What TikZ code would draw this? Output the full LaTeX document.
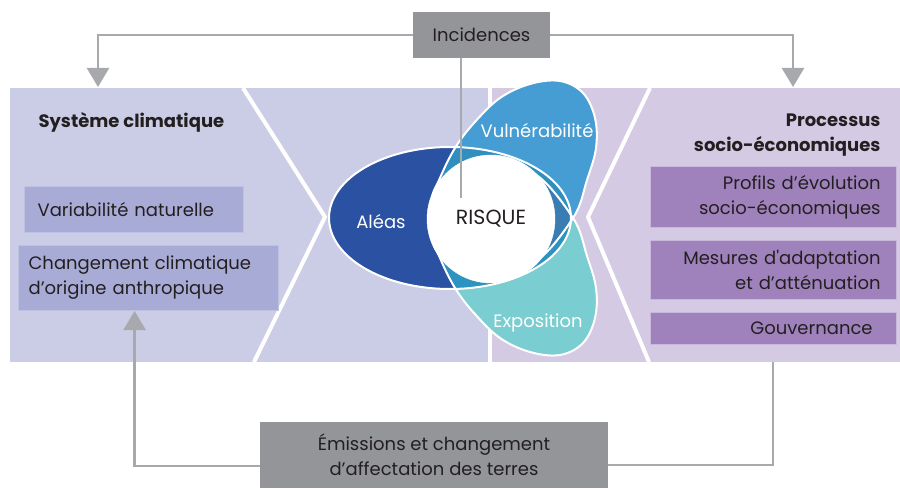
\documentclass[tikz,border=0pt]{standalone}
\usepackage{fontspec}
\setmainfont{Poppins}
\newfontfamily\latoraw{Poppins}
\usetikzlibrary{arrows.meta,calc}
\definecolor{bgL}{HTML}{CBCDE6}
\definecolor{bgR}{HTML}{D4CAE3}
\definecolor{boxL}{HTML}{A8ABD6}
\definecolor{boxLb}{HTML}{BFC1E2}
\definecolor{boxR}{HTML}{9F82BC}
\definecolor{boxRb}{HTML}{C9B8DC}
\definecolor{aleas}{HTML}{2B51A2}
\definecolor{vuln}{HTML}{459DD3}
\definecolor{expo}{HTML}{7ACDD0}
\definecolor{ovAV}{HTML}{2F8FBF}
\definecolor{ovAE}{HTML}{2D93C0}
\definecolor{ovVE}{HTML}{3A7DB3}
\definecolor{gboxc}{HTML}{939598}
\definecolor{glinec}{HTML}{A7A9AC}
\definecolor{ink}{HTML}{231F20}
\newcommand\pathA{(450,270) ellipse [x radius=121, y radius=71]}
\newcommand\pathV{plot[smooth cycle, tension=0.6] coordinates {(573,270) (587,308) (596,340) (595,370) (583,395) (560,407) (530,404) (500,390) (474,365) (455,340) (440,310) (432,285) (445,245) (490,228) (533,225)}}
\newcommand\pathE{plot[smooth cycle, tension=0.6] coordinates {(573,270) (587,232) (596,200) (595,170) (583,145) (560,133) (530,136) (500,150) (474,175) (455,200) (440,230) (432,255) (445,295) (490,312) (533,315)}}
\tikzset{
  txt/.style={font=\fontsize{18}{25}\selectfont, text=ink},
  lbox/.style={txt, fill=boxL, draw=boxLb, line width=1.2pt, align=left, inner ysep=0pt},
  rbox/.style={txt, fill=boxR, draw=boxRb, line width=1.2pt, align=right, inner ysep=0pt},
  gbox/.style={txt, fill=gboxc, draw=none, align=center, inner sep=0pt},
  gline/.style={draw=glinec, line width=2.5pt},
  garrow/.style={gline, -{Triangle[width=22pt,length=19pt]}},
  wline/.style={draw=white, line width=4pt},
  petal/.style={draw=white, line width=2pt},
  ptext/.style={font=\fontsize{18}{20}\selectfont, text=white},
  head/.style={font=\fontsize{18}{25}\selectfont\bfseries, text=ink}
}
\begin{document}
\begin{tikzpicture}[x=1pt,y=1pt]
\useasboundingbox (0,0) rectangle (900,488);
% backgrounds
\fill[bgL] (10,126) rectangle (490,400);
\fill[bgR] (490,126) rectangle (900,400);
% white separators
\coordinate (vt) at (490,400); \coordinate (vb) at (490,126);
\draw[wline] (vt) -- (vb);
\coordinate (cl1) at (243,400); \coordinate (cl2) at (325,271); \coordinate (cl3) at (254,126);
\draw[wline] (cl1) -- (cl2) -- (cl3);
\coordinate (cr1) at (650,400); \coordinate (cr2) at (588,271); \coordinate (cr3) at (649,126);
\draw[wline] (cr1) -- (cr2) -- (cr3);
% petals
\fill[aleas] \pathA;
\fill[vuln] \pathV;
\fill[expo] \pathE;
\begin{scope}
  \clip \pathA;
  \fill[ovAV] \pathV;
  \fill[ovAE] \pathE;
\end{scope}
\begin{scope}
  \clip \pathV;
  \fill[ovVE] \pathE;
\end{scope}
\draw[petal] \pathA;
\draw[petal] \pathV;
\draw[petal] \pathE;
\node[circle, fill=white, draw=white, minimum size=128pt, inner sep=0pt,
      font=\fontsize{20.5}{22}\selectfont, text=ink] (risque) at (491,269) {RISQUE};
\node[ptext] (tal) at (381,266) {Aléas};
\node[ptext] (tvu) at (537,357) {Vulnérabilité};
\node[ptext] (tex) at (538,165) {Exposition};
% left panel
\node[head, anchor=west] (sc) at (35,366) {Système climatique};
\node[lbox, anchor=south west, text width=193pt, inner xsep=13pt, minimum height=46pt] (var) at (24,255) {Variabilité naturelle};
\node[lbox, anchor=south west, text width=240pt, inner xsep=10pt, minimum height=65pt] (chg) at (18,177) {Changement climatique\\d’origine anthropique};
% right panel
\node[head, anchor=east, align=right] (pr) at (884,353) {Processus\\socio-économiques};
\node[rbox, anchor=south west, text width=214pt, inner xsep=16pt, minimum height=61pt] (prof) at (650,260) {Profils d’évolution\\socio-économiques};
\node[rbox, anchor=south west, text width=214pt, inner xsep=16pt, minimum height=59pt] (mes) at (650,188) {Mesures d{\latoraw'}adaptation\\et d’atténuation};
\node[rbox, anchor=south west, text width=198pt, inner xsep=24pt, minimum height=32pt] (gov) at (650,143) {Gouvernance};
% gray boxes
\node[gbox, minimum width=137pt, minimum height=46pt] (inc) at (481.5,453) {Incidences};
\node[gbox, minimum width=348pt, minimum height=66pt] (em) at (434,33) {Émissions et changement\\d’affectation des terres};
% connectors
\coordinate (tipL) at (98,401);
\coordinate (tipR) at (793,401);
\draw[garrow] (inc.west) -| (tipL);
\draw[garrow] (inc.east) -| (tipR);
\coordinate (gEnd) at (461,290);
\draw[gline] (inc.south -| gEnd) -- (gEnd);
\draw[garrow] ([yshift=-11pt]em.west) -| ([xshift=-14pt]chg.south);
\coordinate (pb) at (773,126);
\draw[gline] ([yshift=-10pt]em.east) -| (pb);
\end{tikzpicture}
\end{document}
